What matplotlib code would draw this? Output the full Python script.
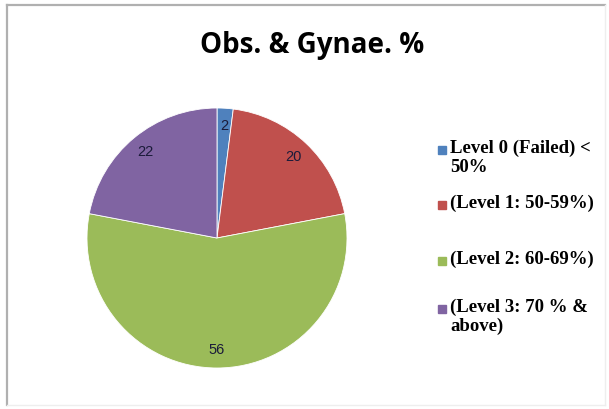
import matplotlib
matplotlib.use("Agg")
import matplotlib.pyplot as plt
from matplotlib.patches import Rectangle
from matplotlib.lines import Line2D

title = "Obs. & Gynae. %"
categories = ["Level 0 (Failed) <\n50%", "(Level 1: 50-59%)", "(Level 2: 60-69%)", "(Level 3: 70 % &\nabove)"]
values = [2, 20, 56, 22]
colors = ["#4F81BD", "#C0504D", "#9BBB59", "#8064A2"]

W, H = 609, 409
fig = plt.figure(figsize=(W / 100, H / 100), dpi=100)

# border
fig.add_artist(Line2D([7 / W, 7 / W], [1 - 5 / H, 1 - 405 / H], color="#B0B0B0", lw=1.6))
fig.add_artist(Line2D([7 / W, 605 / W], [1 - 5 / H, 1 - 5 / H], color="#B0B0B0", lw=1.6))
fig.add_artist(Line2D([605 / W, 605 / W], [1 - 5 / H, 1 - 405 / H], color="#EEEEEE", lw=1))
fig.add_artist(Line2D([7 / W, 605 / W], [1 - 405 / H, 1 - 405 / H], color="#EEEEEE", lw=1))

cx, cy, r = 217, 238, 130
ax = fig.add_axes([(cx - r) / W, (H - cy - r) / H, 2 * r / W, 2 * r / H])
wedges, texts = ax.pie(values, colors=colors, startangle=90, counterclock=False,
                       labels=[str(v) for v in values], labeldistance=0.86,
                       wedgeprops=dict(edgecolor="white", linewidth=0.6),
                       textprops=dict(color="#1B1B3A", fontsize=10.5, family="Liberation Sans"))
for t in texts:
    t.set_ha("center")
    t.set_va("center")
ax.set_xlim(-1, 1)
ax.set_ylim(-1, 1)
ax.set_aspect("equal")

fig.text(312 / W, 1 - 46 / H, title, ha="center", va="center", fontsize=20,
         fontweight="bold", family="Open Sans")

# legend
entry_y = [150, 205, 261, 309]
for lab, col, y in zip(categories, colors, entry_y):
    fig.add_artist(Rectangle((438 / W, 1 - (y + 4) / H), 8 / W, 8 / H, color=col,
                             transform=fig.transFigure))
    fig.text(450 / W, 1 - (y - 10) / H, lab, ha="left", va="top", fontsize=13.5,
             fontweight="bold", family="Liberation Serif", linespacing=1.1)

fig.savefig("out.png", dpi=100)
